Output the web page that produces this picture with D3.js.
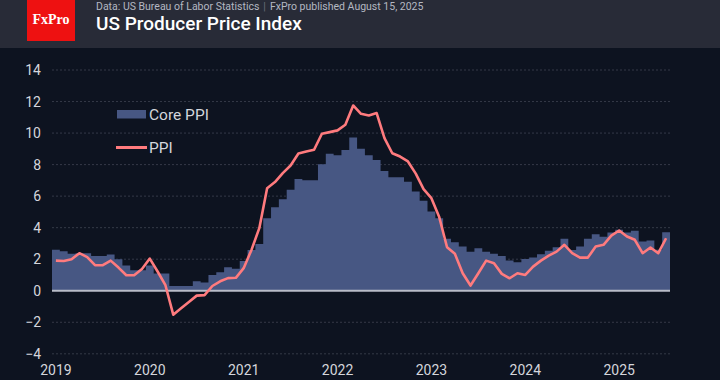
<!DOCTYPE html>
<html><head><meta charset="utf-8">
<script src="https://cdn.jsdelivr.net/npm/d3@7"></script>
<style>
html,body{margin:0;padding:0;background:#0d1320;}
svg{display:block;font-family:Roboto,"Noto Sans",sans-serif;}
</style></head>
<body><svg id="chart" width="720" height="380"></svg>
<script>
const years = [2019,2020,2021,2022,2023,2024,2025];
const months = [];
for (let y = 2019; y <= 2025; y++) for (let m = 1; m <= 12; m++) { if (y === 2025 && m > 7) break; months.push(y + "-" + String(m).padStart(2,"0")); }
const corePPI = [2.6,2.5,2.35,2.38,2.38,2.2,2.2,2.3,2.0,1.6,1.3,1.3,
  1.6,1.1,1.1,0.3,0.3,0.3,0.6,0.52,1.0,1.17,1.49,1.4,
  1.89,2.59,2.97,4.6,5.3,5.81,6.4,7.08,7.0,7.0,8.03,8.69,
  8.6,8.92,9.72,9.0,8.6,8.29,7.6,7.2,7.2,6.92,6.3,5.7,
  5.02,4.6,3.29,3.08,2.8,2.48,2.7,2.48,2.34,2.21,1.91,1.81,
  2.02,2.1,2.32,2.53,2.76,3.29,2.59,2.8,3.29,3.59,3.42,3.69,
  3.86,3.69,3.8,3.12,3.18,2.6,3.71];
const PPI = [1.91,1.89,2.0,2.38,2.13,1.62,1.62,1.91,1.47,0.98,0.98,1.38,
  2.04,1.22,0.35,-1.52,-1.11,-0.71,-0.31,-0.28,0.3,0.6,0.8,0.82,
  1.43,2.59,3.97,6.5,6.89,7.46,7.94,8.7,8.83,8.94,9.96,10.06,
  10.17,10.53,11.75,11.22,11.12,11.27,9.68,8.72,8.51,8.2,7.43,6.44,
  5.87,4.67,2.76,2.34,1.11,0.33,1.11,1.91,1.75,1.07,0.79,1.11,
  1.0,1.53,1.91,2.23,2.48,2.91,2.38,2.1,2.1,2.8,2.91,3.5,
  3.82,3.44,3.23,2.38,2.74,2.38,3.33];
const yTicks = [-4,-2,0,2,4,6,8,10,12,14];
const seriesNames = ["Core PPI","PPI"];
const title = "US Producer Price Index";
const subtitle = "Data: US Bureau of Labor Statistics";
const subtitle2 = "FxPro published August 15, 2025";

const svg = d3.select("#chart");
// header
svg.append("rect").attr("x",0).attr("y",0).attr("width",720).attr("height",48).attr("fill","#282b37");
svg.append("rect").attr("x",0).attr("y",48).attr("width",720).attr("height",332).attr("fill","#0d1320");
svg.append("rect").attr("x",27).attr("y",0).attr("width",48).attr("height",41).attr("fill","#ee1111");
svg.append("text").attr("x",51).attr("y",24).attr("text-anchor","middle").attr("fill","#fff")
  .attr("font-family","'Liberation Serif','DejaVu Serif',serif").attr("font-size",14).attr("font-weight","bold").text("FxPro");
const st = svg.append("text").attr("x",96).attr("y",10).attr("font-size",10.5).attr("fill","#b4b8c2");
st.append("tspan").text(subtitle);
st.append("tspan").attr("fill","#6a6e7a").attr("dx",4).text("|");
st.append("tspan").attr("dx",4).text(subtitle2);
svg.append("text").attr("x",96).attr("y",30).attr("font-size",19).attr("font-weight",500).attr("fill","#ffffff").text(title);

const x = d3.scaleBand().domain(months).range([52,670]).padding(0);
const y = d3.scaleLinear().domain([-4,14]).range([353.8,70]);
const bw = x.bandwidth();

// gridlines
svg.append("g").selectAll("line").data(yTicks.filter(d=>d!==0)).join("line")
  .attr("x1",52).attr("x2",670).attr("y1",d=>y(d)).attr("y2",d=>y(d))
  .attr("stroke","#343947").attr("stroke-width",1).attr("stroke-dasharray","2,2");

// y axis
const ya = svg.append("g").attr("transform","translate(44,0)")
  .call(d3.axisLeft(y).tickValues(yTicks).tickSize(0).tickPadding(3).tickFormat(d3.format("d")));
ya.select(".domain").remove();
ya.selectAll("text").attr("fill","#d4d6dc").attr("font-size",14).attr("font-family","Roboto,sans-serif");

// x axis
const xa = svg.append("g").attr("transform","translate(0,357)")
  .call(d3.axisBottom(x).tickValues(years.map(yy=>yy+"-01")).tickSize(0).tickPadding(8).tickFormat(d=>d.slice(0,4)));
xa.select(".domain").remove();
xa.selectAll("text").attr("fill","#d4d6dc").attr("font-size",14).attr("font-family","Roboto,sans-serif");

// core area (stepped)
const stepData = corePPI.map((v,i)=>({x:x(months[i]),v}));
stepData.push({x:x(months[months.length-1])+bw, v:corePPI[corePPI.length-1]});
const area = d3.area().curve(d3.curveStepAfter).x(d=>d.x).y0(y(0)).y1(d=>y(d.v));
svg.append("path").datum(stepData).attr("d",area).attr("fill","#475783");

// zero line
svg.append("line").attr("x1",52).attr("x2",670).attr("y1",y(0)).attr("y2",y(0))
  .attr("stroke","#b9bdc8").attr("stroke-width",2);

// PPI line
const line = d3.line().x((d,i)=>x(months[i])+bw/2).y(d=>y(d));
svg.append("path").datum(PPI).attr("d",line).attr("fill","none")
  .attr("stroke","#ff7b7e").attr("stroke-width",2.6).attr("stroke-linejoin","round");

// legend
const lg = svg.append("g");
lg.append("rect").attr("x",117).attr("y",110).attr("width",29).attr("height",8.5).attr("fill","#475783");
lg.append("text").attr("x",149).attr("y",119.5).attr("font-size",15.5).attr("fill","#d4d6dc").text(seriesNames[0]);
lg.append("line").attr("x1",116).attr("x2",147).attr("y1",147.5).attr("y2",147.5).attr("stroke","#ff7b7e").attr("stroke-width",3);
lg.append("text").attr("x",149).attr("y",153).attr("font-size",15.5).attr("fill","#d4d6dc").text(seriesNames[1]);
</script></body></html>
